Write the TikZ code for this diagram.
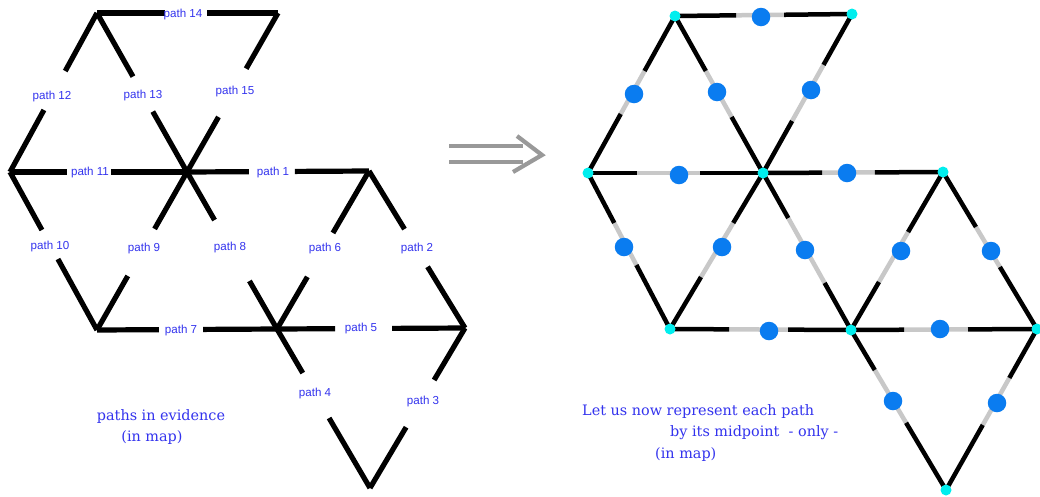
\documentclass[tikz,border=0pt]{standalone}
\usepackage{fontspec}
\setmainfont{Liberation Sans}
\newfontfamily\slabfont{DejaVu Serif}
\usetikzlibrary{calc}

\definecolor{labelblue}{RGB}{51,51,238}
\definecolor{dotblue}{RGB}{10,124,240}
\definecolor{vertcyan}{RGB}{0,238,238}
\definecolor{midgray}{RGB}{200,200,200}
\definecolor{arrowgray}{RGB}{153,153,153}

\tikzset{
  maproad/.style={line width=5.2pt, black},
  pathlabel/.style={text=labelblue, font=\fontsize{11.6}{12}\selectfont, inner sep=0pt},
  note/.style={text=labelblue, font=\slabfont\fontsize{14.4}{16}\selectfont, inner sep=0pt},
  roadblack/.style={line width=4.5pt, black},
  roadgray/.style={line width=4.5pt, midgray},
  midpt/.style={circle, fill=dotblue, minimum size=18.5pt, inner sep=0pt},
  crossing/.style={circle, fill=vertcyan, minimum size=11pt, inner sep=0pt},
  bigarrow/.style={line width=4.2pt, arrowgray},
}

% a road interrupted between fractions #3 and #4 to leave room for its label
\newcommand{\labelledroad}[4]{%
  \draw[maproad] (#1) -- ($(#1)!#3!(#2)$);
  \draw[maproad] ($(#1)!#4!(#2)$) -- (#2);
}
% a road whose middle stretch (fractions #3 to #4) is shown in grey
\newcommand{\midroad}[4]{%
  \draw[roadgray] ($(#1)!#3!(#2)$) -- ($(#1)!#4!(#2)$);
  \draw[roadblack] (#1) -- ($(#1)!#3!(#2)$);
  \draw[roadblack] ($(#1)!#4!(#2)$) -- (#2);
}

\begin{document}
\begin{tikzpicture}[x=1pt, y=-1pt]
\fill[white] (0,0) rectangle (1040,496);
\useasboundingbox (0,0) rectangle (1040,496);

% ---------- map of paths ----------
\coordinate (A) at (97,13);
\coordinate (B) at (278,13);
\coordinate (C) at (10,172);
\coordinate (D) at (187,172);
\coordinate (E) at (369,171);
\coordinate (F) at (97,330);
\coordinate (G) at (277,329);
\coordinate (H) at (465,328);
\coordinate (I) at (370,488);

\labelledroad{A}{B}{0.376}{0.608}
\labelledroad{A}{C}{0.365}{0.61}
\labelledroad{A}{D}{0.40}{0.62}
\labelledroad{B}{D}{0.35}{0.654}
\labelledroad{C}{D}{0.322}{0.571}
\labelledroad{D}{E}{0.34}{0.593}
\labelledroad{C}{F}{0.367}{0.551}
\labelledroad{D}{F}{0.36}{0.658}
\labelledroad{D}{G}{0.306}{0.694}
\labelledroad{E}{G}{0.392}{0.67}
\labelledroad{E}{H}{0.37}{0.61}
\labelledroad{F}{G}{0.344}{0.589}
\labelledroad{G}{H}{0.309}{0.612}
\labelledroad{G}{I}{0.277}{0.56}
\labelledroad{H}{I}{0.325}{0.62}

\node[pathlabel] (l14) at (183,14) {path 14};
\node[pathlabel] (l12) at (52,96) {path 12};
\node[pathlabel] (l13) at (143,95) {path 13};
\node[pathlabel] (l15) at (235,91) {path 15};
\node[pathlabel] (l11) at (90,172) {path 11};
\node[pathlabel] (l1) at (273,172) {path 1};
\node[pathlabel] (l10) at (50,246) {path 10};
\node[pathlabel] (l9) at (144,248) {path 9};
\node[pathlabel] (l8) at (230,247) {path 8};
\node[pathlabel] (l6) at (325,248) {path 6};
\node[pathlabel] (l2) at (417,248) {path 2};
\node[pathlabel] (l7) at (181,330) {path 7};
\node[pathlabel] (l5) at (361,328) {path 5};
\node[pathlabel] (l4) at (315,393) {path 4};
\node[pathlabel] (l3) at (423,401) {path 3};

\node[note] (ev1) at (161,417) {paths in evidence};
\node[note] (ev2) at (152,438) {(in map)};

% ---------- the implication arrow ----------
\coordinate (arL1) at (449,146);
\coordinate (arR1) at (523,146);
\coordinate (arL2) at (449,162);
\coordinate (arR2) at (523,162);
\coordinate (hdT) at (517,136);
\coordinate (hdP) at (542,155);
\coordinate (hdB) at (513,172);
\draw[bigarrow] (arL1) -- (arR1);
\draw[bigarrow] (arL2) -- (arR2);
\draw[bigarrow, line join=miter] (hdT) -- (hdP) -- (hdB);

% ---------- midpoint map ----------
\coordinate (a) at (675,16);
\coordinate (b) at (852,14);
\coordinate (c) at (588,173);
\coordinate (d) at (763,173);
\coordinate (e) at (943,172);
\coordinate (f) at (670,329);
\coordinate (g) at (851,330);
\coordinate (h) at (1037,329);
\coordinate (i) at (946,490);

\midroad{a}{b}{0.345}{0.616}
\midroad{a}{c}{0.35}{0.624}
\midroad{a}{d}{0.35}{0.643}
\midroad{b}{d}{0.32}{0.673}
\midroad{c}{d}{0.28}{0.64}
\midroad{d}{e}{0.328}{0.622}
\midroad{c}{f}{0.32}{0.59}
\midroad{d}{f}{0.32}{0.667}
\midroad{d}{g}{0.287}{0.70}
\midroad{f}{g}{0.326}{0.652}
\midroad{e}{g}{0.38}{0.696}
\midroad{e}{h}{0.35}{0.605}
\midroad{g}{h}{0.285}{0.629}
\midroad{g}{i}{0.25}{0.58}
\midroad{h}{i}{0.304}{0.596}

\node[midpt] (m14) at (761,17) {};
\node[midpt] (m12) at (634,94) {};
\node[midpt] (m13) at (717,92) {};
\node[midpt] (m15) at (811,90) {};
\node[midpt] (m11) at (679,175) {};
\node[midpt] (m1) at (847,173) {};
\node[midpt] (m10) at (624,247) {};
\node[midpt] (m9) at (722,247) {};
\node[midpt] (m8) at (805,250) {};
\node[midpt] (m7) at (769,331) {};
\node[midpt] (m6) at (901,251) {};
\node[midpt] (m2) at (991,251) {};
\node[midpt] (m5) at (940,329) {};
\node[midpt] (m4) at (893,401) {};
\node[midpt] (m3) at (997,403) {};

\foreach \v in {a,b,c,d,e,f,g,h,i}
  \node[crossing] (x\v) at (\v) {};

\node[note, anchor=west] (rp1) at (582,412) {Let us now represent each path};
\node[note, anchor=west] (rp2) at (670,433) {by its midpoint~ - only -};
\node[note, anchor=west] (rp3) at (655,455) {(in map)};
\end{tikzpicture}
\end{document}
